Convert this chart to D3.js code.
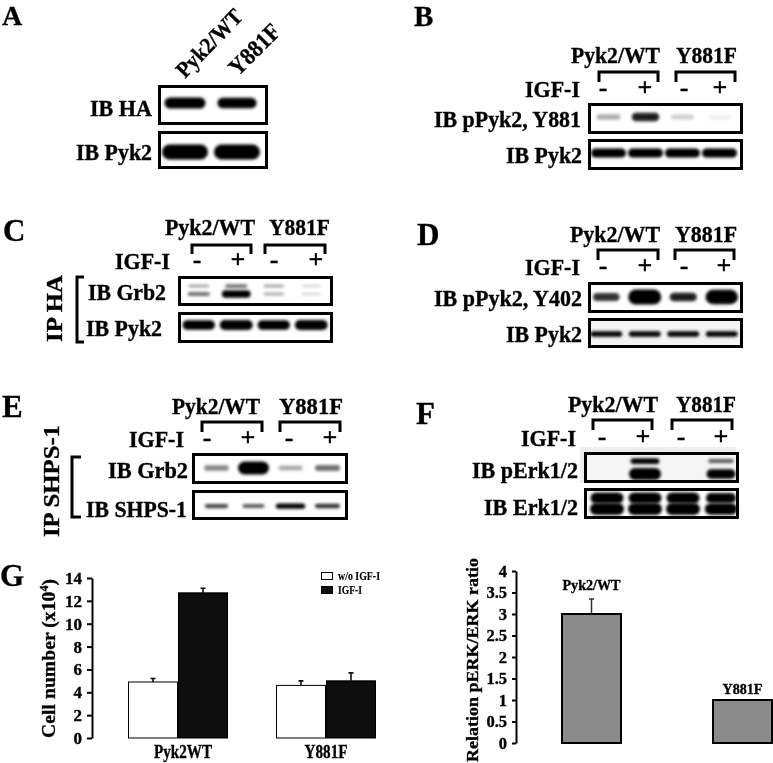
<!DOCTYPE html>
<html><head><meta charset="utf-8">
<style>html,body{margin:0;padding:0;background:#fff;overflow:hidden}text{font-family:"Liberation Serif","Times New Roman",serif;font-weight:bold;fill:#000;stroke:#000;stroke-width:.35px}</style>
<script src="https://cdn.jsdelivr.net/npm/d3@7/dist/d3.min.js"></script></head><body>
<svg id="c" width="773" height="763"></svg>
<script>
// ---------- Data: bar charts ----------
const cellGroups = ["Pyk2WT", "Y881F"];
const cellSeries = ["w/o IGF-I", "IGF-I"];
const cellNoIgf = [4.9, 4.6];
const cellIgf = [12.7, 5.0];
const cellNoIgfErr = [0.3, 0.4];
const cellIgfErr = [0.4, 0.7];
const cellTicks = [0, 2, 4, 6, 8, 10, 12, 14];
const ratioGroups = ["Pyk2/WT", "Y881F"];
const ratioValues = [3.0, 1.0];
const ratioErr = [0.35, 0];
const ratioTicks = [0, 0.5, 1, 1.5, 2, 2.5, 3, 3.5, 4];
// ---------- Data: band intensities per lane (read from the blots) ----------
const lanesAll = ["WT-", "WT+", "Y881F-", "Y881F+"];
const lanesA = ["Pyk2/WT", "Y881F"];
const aHA = [1, 0.95];
const aPyk2 = [1, 1];
const bY881 = [0.2, 0.55, 0.12, 0.04];
const bPyk2 = [1, 1, 1, 1];
const cGrb2Upper = [0.22, 0.35, 0.22, 0.1];
const cGrb2Lower = [0.35, 0.9, 0.2, 0.1];
const cPyk2 = [0.95, 1, 0.95, 0.98];
const dY402 = [0.5, 1, 0.55, 0.95];
const dPyk2 = [0.7, 0.7, 0.7, 0.7];
const eGrb2 = [0.3, 1, 0.22, 0.35];
const eShps = [0.45, 0.4, 0.65, 0.5];
const fPerkUpper = [0, 0.75, 0, 0.4];
const fPerkLower = [0, 1, 0, 0.7];
const fErkUpper = [1, 1, 1, 0.9];
const fErkLower = [1, 1, 1, 0.95];

// ---------- Layout ----------
const svg = d3.select("#c");
const defs = svg.append("defs");
defs.append("filter").attr("id","b").attr("x","-30%").attr("y","-80%").attr("width","160%").attr("height","260%")
  .append("feGaussianBlur").attr("stdDeviation",1.6);
defs.append("filter").attr("id","s").attr("x","-5%").attr("y","-5%").attr("width","110%").attr("height","110%")
  .append("feGaussianBlur").attr("stdDeviation",0.35);
const root = svg.append("g").attr("filter","url(#s)");

function txt(s, x, y, size, opt={}) {
  const t = root.append("text").attr("x",x).attr("y",y).attr("font-size",size).text(s);
  if (opt.anchor) t.attr("text-anchor",opt.anchor);
  if (opt.len) t.attr("textLength",opt.len).attr("lengthAdjust","spacingAndGlyphs");
  if (opt.rot!==undefined) t.attr("transform",`rotate(${opt.rot} ${x} ${y})`);
  return t;
}
function frame(x0,x1,y0,y1,bg) {
  root.append("rect").attr("x",x0+1.5).attr("y",y0+1.5).attr("width",x1-x0-3).attr("height",y1-y0-3)
    .attr("fill",bg||"#fff").attr("stroke","#000").attr("stroke-width",3);
}
function bands(values, lanes, range, y, t, w) {
  const lane = d3.scaleBand().domain(lanes).range(range);
  const th = d3.scaleLinear().domain([0,1]).range(t);
  const wd = d3.scaleLinear().domain([0,1]).range(w);
  root.append("g").attr("filter","url(#b)").selectAll("rect").data(values.map((v,i)=>({v,n:lanes[i]})).filter(d=>d.v>0))
    .join("rect")
    .attr("x",d=>lane(d.n)+lane.bandwidth()/2-wd(d.v)/2)
    .attr("width",d=>wd(d.v))
    .attr("y",d=>y-th(d.v)/2).attr("height",d=>th(d.v))
    .attr("rx",d=>Math.min(th(d.v),wd(d.v))/2)
    .attr("fill","#000").attr("opacity",d=>Math.min(1,d.v*1.6));
}
function bracket(x0,x1,y0,y1,sw) {
  root.append("path").attr("d",d3.line()([[x0,y1],[x0,y0],[x1,y0],[x1,y1]]))
    .attr("fill","none").attr("stroke","#000").attr("stroke-width",sw||3);
}
function header(h) {
  txt("Pyk2/WT",h.wt[0],h.base,24,{len:h.wt[1]-h.wt[0]});
  txt("Y881F",h.mut[0],h.base,23.5,{len:h.mut[1]-h.mut[0]});
  bracket(h.b1[0],h.b1[1],h.bt,h.bb); bracket(h.b2[0],h.b2[1],h.bt,h.bb);
  txt("IGF-I",h.igfR,h.igfY,23,{anchor:"end",len:55});
  ["-","+","-","+"].forEach((s,i)=>txt(s,h.sign[i],h.igfY-1,26,{anchor:"middle"}));
}
function sideBracket(x0,x1,y0,y1) {
  root.append("path").attr("d",d3.line()([[x1,y0],[x0,y0],[x0,y1],[x1,y1]]))
    .attr("fill","none").attr("stroke","#000").attr("stroke-width",3);
}

// Panel letters
[["A",2,25,28],["B",414,26,29],["C",3,241,31],["D",417,245,31],["E",2,417,31],["F",416,424,31],["G",0,586,31]]
  .forEach(d=>txt(d[0],d[1],d[2],d[3]));

// Panel A
txt("Pyk2/WT",185,79,22.5,{rot:-46,len:85});
txt("Y881F",238,77,24,{rot:-45,len:62});
frame(158,268,85,125); frame(158,268,131,169);
bands(aHA,lanesA,[159,263],103,[2,11],[4,41]);
bands(aPyk2,lanesA,[159,263],152,[2,15],[4,46]);
txt("IB HA",152,116,23,{anchor:"end",len:62});
txt("IB Pyk2",152,160,23,{anchor:"end",len:76});

// Panel B
header({wt:[571,660],mut:[676,737],base:63,b1:[599,658],b2:[676,735],bt:72,bb:82,igfR:580,igfY:97,sign:[603,645,684,720]});
frame(588,743,103,134); frame(588,743,139,170);
bands(bY881,lanesAll,[590,738],117,[4,12],[22,32]);
bands(bPyk2,lanesAll,[590,738],153,[2,9],[4,35]);
txt("IB pPyk2, Y881",581,127,23,{anchor:"end",len:147});
txt("IB Pyk2",582,163,23,{anchor:"end",len:76});

// Panel C
header({wt:[165,255],mut:[269,330],base:235,b1:[192,251],b2:[265,325],bt:245,bb:254,igfR:170,igfY:269,sign:[197,238,274,316]});
frame(178,333,276,306); frame(178,333,312,343);
bands(cGrb2Upper,lanesAll,[180,330],286,[2,7],[18,30]);
bands(cGrb2Lower,lanesAll,[180,330],294,[2,8],[18,30]);
bands(cPyk2,lanesAll,[180,330],325,[4,10],[20,33]);
txt("IB Grb2",88,300,23,{len:78}); txt("IB Pyk2",86,336,23,{len:76});
sideBracket(77,84,277,342);
txt("IP HA",62,342,24,{rot:-90,len:67});

// Panel D
header({wt:[570,660],mut:[675,737],base:242,b1:[598,658],b2:[675,734],bt:250,bb:260,igfR:580,igfY:275,sign:[603,645,684,724]});
frame(588,743,282,313); frame(588,743,318,348,"#f4f4f4");
bands(dY402,lanesAll,[587,741],297,[1,15],[20,33]);
bands(dPyk2,lanesAll,[587,741],334,[2,7],[6,43]);
txt("IB pPyk2, Y402",582,306,23,{anchor:"end",len:148});
txt("IB Pyk2",582,342,23,{anchor:"end",len:76});

// Panel E
header({wt:[172,260],mut:[279,343],base:414,b1:[202,262],b2:[280,340],bt:422,bb:432,igfR:184,igfY:447,sign:[207,248,289,330]});
frame(192,348,453,484); frame(192,348,490,520);
bands(eGrb2,lanesAll,[198,346],468,[2,13],[22,31]);
bands(eShps,lanesAll,[198,346],506,[2,7],[10,40]);
txt("IB Grb2",108,478,23,{len:80}); txt("IB SHPS-1",86,517,23,{len:101});
sideBracket(72,81,457,517);
txt("IP SHPS-1",59,537,24,{rot:-90,len:112});

// Panel F
root.append("rect").attr("x",580).attr("y",447).attr("width",156).attr("height",36).attr("fill","#eee");
header({wt:[568,658],mut:[676,736],base:412,b1:[593,652],b2:[672,732],bt:420,bb:430,igfR:576,igfY:446,sign:[602,643,681,721]});
frame(584,739,452,483,"#f6f6f6"); frame(584,739,488,519);
bands(fPerkUpper,lanesAll,[588,740],461,[2,7],[22,31]);
bands(fPerkLower,lanesAll,[588,740],474,[3,12],[22,32]);
bands(fErkUpper,lanesAll,[588,740],498,[3,11],[4,33]);
bands(fErkLower,lanesAll,[588,740],509,[3,12],[4,34]);
txt("IB pErk1/2",472,478,23,{len:106}); txt("IB Erk1/2",484,515,23,{len:94});

// ---------- Panel G: cell number ----------
const yCell = d3.scaleLinear().domain([0,14]).range([738,578]);
const xCell = d3.scaleBand().domain(cellGroups).range([128,376]).paddingInner(0.324).paddingOuter(0);
const xSub = d3.scaleBand().domain(cellSeries).range([0,xCell.bandwidth()]);
const cellRows = cellGroups.flatMap((g,i)=>[
  {g,s:cellSeries[0],v:cellNoIgf[i],e:cellNoIgfErr[i],c:"#fff"},
  {g,s:cellSeries[1],v:cellIgf[i],e:cellIgfErr[i],c:"#0a0a0a"}]);
const gCell = root.append("g");
gCell.selectAll("path").data(cellRows).join("path")
  .attr("d",d=>{const x=xCell(d.g)+xSub(d.s)+xSub.bandwidth()/2;
    return d3.line()([[x,yCell(d.v)],[x,yCell(d.v+d.e)],[x-2.5,yCell(d.v+d.e)],[x+2.5,yCell(d.v+d.e)]]);})
  .attr("fill","none").attr("stroke","#111").attr("stroke-width",1.6);
gCell.selectAll("rect").data(cellRows).join("rect")
  .attr("x",d=>xCell(d.g)+xSub(d.s)+0.5).attr("width",xSub.bandwidth()-1)
  .attr("y",d=>yCell(d.v)).attr("height",d=>yCell(0)-yCell(d.v))
  .attr("fill",d=>d.c).attr("stroke","#000").attr("stroke-width",1);
const axC = root.append("g").attr("transform","translate(92,0)")
  .call(d3.axisLeft(yCell).tickValues(cellTicks).tickSize(5).tickSizeOuter(0).tickPadding(5));
axC.selectAll("path,line").attr("stroke","#000").attr("stroke-width",2);
axC.selectAll("text").attr("font-size",17).style("font-family",'"Liberation Serif"').style("font-weight","bold");
cellGroups.forEach((g,i)=>txt(g,[183,326][i],758,18,{anchor:"middle",len:[58,43][i]}));
const yl = txt("",55,738,19.5,{rot:-90}).attr("letter-spacing",0.1);
yl.append("tspan").text("Cell number (x10");
yl.append("tspan").attr("font-size",12).attr("dy",-7).text("4");
yl.append("tspan").attr("dy",7).text(")");
// legend
cellSeries.forEach((s,i)=>{
  root.append("rect").attr("x",321.5).attr("y",[572,586][i]+0.5).attr("width",11).attr("height",7)
    .attr("fill",i?"#0a0a0a":"#fff").attr("stroke","#000");
  txt(s,338,[580,594][i],12,{len:[42,24][i]}).style("stroke-width","0.15px");
});

// ---------- Panel G right: pERK/ERK ratio ----------
const yR = d3.scaleLinear().domain([0,4]).range([743,571]);
const xR = d3.scaleBand().domain(ratioGroups).range([561,773]).paddingInner(0.596).paddingOuter(0);
const gR = root.append("g");
gR.selectAll("path").data(ratioGroups.map((g,i)=>({g,v:ratioValues[i],e:ratioErr[i]})).filter(d=>d.e>0)).join("path")
  .attr("d",d=>{const x=xR(d.g)+xR.bandwidth()/2;
    return d3.line()([[x,yR(d.v)],[x,yR(d.v+d.e)],[x-2.5,yR(d.v+d.e)],[x+2.5,yR(d.v+d.e)]]);})
  .attr("fill","none").attr("stroke","#333").attr("stroke-width",1.5);
gR.selectAll("rect").data(ratioGroups.map((g,i)=>({g,v:ratioValues[i]}))).join("rect")
  .attr("x",d=>xR(d.g)+1).attr("width",xR.bandwidth()-2)
  .attr("y",d=>yR(d.v)).attr("height",d=>yR(0)-yR(d.v))
  .attr("fill","#8a8a8a").attr("stroke","#000").attr("stroke-width",2);
const axR = root.append("g").attr("transform","translate(516,0)")
  .call(d3.axisLeft(yR).tickValues(ratioTicks).tickFormat(d3.format("~g")).tickSize(4).tickSizeOuter(0).tickPadding(5));
axR.selectAll("path,line").attr("stroke","#000").attr("stroke-width",2);
axR.selectAll("text").attr("font-size",16.5).style("font-family",'"Liberation Serif"').style("font-weight","bold");
ratioGroups.forEach((g,i)=>txt(g,xR(g)+xR.bandwidth()/2,[590,694][i],14.5,{anchor:"middle",len:[58,40][i]}));
txt("Relation pERK/ERK ratio",478,762,17,{rot:-90,len:204});
</script></body></html>
